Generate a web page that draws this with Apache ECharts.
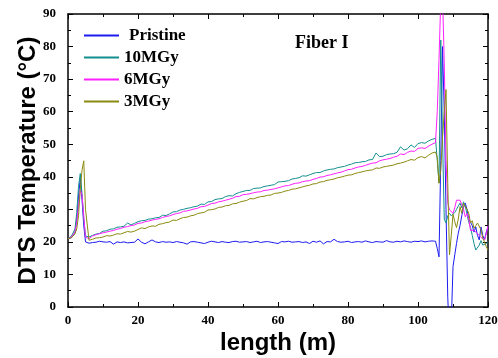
<!DOCTYPE html>
<html><head><meta charset="utf-8">
<script src="https://cdn.jsdelivr.net/npm/echarts@6/dist/echarts.min.js"></script>
<style>html,body{margin:0;padding:0;background:#fff}#c{width:498px;height:358px}</style>
</head><body><div id="c"></div>
<script>
// length (m)
const lengthM = [0,1,2,2.5,3,3.5,4,4.5,5,
6,7,8,9,10,11,12,13,14,15,16,17,18,19,20,21,22,23,24,25,26,27,28,29,30,
31,32,33,34,35,36,37,38,39,40,41,42,43,44,45,46,47,48,49,50,
51,52,53,54,55,56,57,58,59,60,61,62,63,64,65,66,67,68,69,70,
71,72,73,74,75,76,77,78,79,80,81,82,83,84,85,86,87,88,89,90,
91,92,93,94,95,96,97,98,99,100,101,102,103,104,
104.5,105,105.5,106,106.5,107,107.5,108,108.5,109,109.5,110,110.5,111,111.5,112,
112.5,113,113.5,114,114.5,115,115.5,116,116.5,117,117.5,118,118.5,119,119.5,120];

const pristine = [21,21.3,23,27,34,39.5,33,25,20,
19.6,19.8,19.9,20.2,20,19.9,20.1,19.3,20,19.8,20,19.7,19.8,19.9,20.9,19.9,19.4,20,20.6,20,19.8,20.1,19.9,20,19.8,
20.1,19.9,19.7,19.3,20,20.1,19.9,19.7,19.5,19.9,20.2,20,19.8,20.1,19.9,19.8,20.1,20.2,19.9,20,
20.1,19.8,20,20.2,19.8,20,20.1,19.9,19.7,19.5,20.1,20,20.2,19.9,20,20.1,19.8,20,19.5,20.2,
19.9,20.3,19.4,20.1,20,20.8,20.1,19.9,20,20.2,19.8,20,20.1,19.9,20.3,20,19.8,20.1,20,19.9,
20.4,20,19.9,20.2,20,20.3,20.1,19.9,20.2,20.1,20.3,20,20.2,20.3,
20.3,20.2,18,15.4,45,80,60,30,3,-10,-5,12.4,16,19.5,22.7,25,
28,30.5,31.9,30,27,26,25,23,24.6,22,20.6,24.6,22,20.6,23,24.6];

const mgy10 = [21,21.8,24,29,37,41,35,27,21.8,
21.5,22,22.4,22.6,23.3,23.4,23.9,24,24.5,24.6,24.8,25.8,25.2,25.7,26.2,26.5,26.6,27,27.1,27.4,27.5,28.2,28.1,28.6,29.2,
29.3,29.8,30,30.3,30.5,30.8,31,31.6,31.5,32.3,32.4,33,33.2,33.3,33.9,34.2,34.1,34.8,35.2,35.5,
35.8,35.8,36.4,36.5,36.6,37,37.2,37.4,37.6,38.4,38.5,38.6,38.8,39.3,39.5,39.7,40.3,40.2,40.6,41,
41.3,41.3,41.8,42.1,42.3,42.4,42.8,43,43.2,43.6,43.9,44.3,44.4,44.6,44.7,45.2,45.3,47.3,46.2,46.3,
46.8,47,47.1,47.5,49.2,48.2,48.6,49.8,49,50.2,50.5,50.3,51,51.5,
51.3,51.8,45,38.1,82,52,27,25.8,28,28.8,28,28.5,29,30,31,31.9,
30.5,32.3,31,28.5,26,24.5,22,19.5,17.5,17,19,20.4,19,18.5,19.5,20];

const mgy6 = [21,21.5,23,26,31,36,34.5,28,21.5,
21,21.8,22.2,22.5,22.8,23,23.3,23.5,23.9,24.1,24.5,24.7,25,25.2,25.7,25.8,26.2,26.4,26.7,26.9,27.1,27.5,27.8,28,28.4,
28.7,28.9,29.4,29.5,29.8,30.1,30.3,30.8,30.9,31.3,31.8,31.9,32.3,32.5,32.8,33.1,33.4,33.9,34,34.5,
34.6,34.8,35.1,35.3,35.4,35.8,35.9,36.1,36.3,36.6,36.9,37.2,37.3,37.7,38,38.1,38.5,38.7,38.8,39.2,
39.5,39.9,40,40.4,40.6,40.9,41.2,41.4,41.8,42.2,42.3,42.7,43,43.2,43.5,43.9,44.2,44.3,44.9,45.2,
45.4,45.6,46,46.3,47,46.8,47.5,47.9,47.8,48.7,48.9,48.7,49.4,50,
50.2,50.5,60,76,94,96,75,45,32,29.8,29.2,28.8,30.5,32.8,32.6,32.8,
32.6,30,27.7,28.7,27,23.5,23.3,23.6,23.5,22.5,22,21.4,21,20.6,22.5,25];

const mgy3 = [21,21.3,22.5,24,28,36,42,44.9,30,
20.5,20.8,21.2,21.3,21.5,21.9,21.8,22.1,22.5,22.4,22.8,23.2,23,23.3,23.8,24.3,24.1,24.6,24.9,24.8,25.4,25.6,25.9,26.1,26.7,
26.6,27.1,27.5,27.6,28,28.2,28.7,28.9,29.1,29.8,29.9,30.1,30.6,30.7,31.1,31.2,31.7,31.8,32.2,32.5,
32.7,33.3,33.2,33.6,33.9,34,34.3,34.4,34.9,35,35.2,35.6,35.8,36.2,36.3,36.6,36.9,37.2,37.4,37.8,
37.9,38.4,38.5,38.9,39.1,39.3,39.7,39.9,40.2,40.5,40.6,41,41.3,41.5,41.8,42,42.1,42.7,42.6,43,
43.2,43.4,43.6,44,44.2,44.5,44.9,45.3,45.1,45.9,46.2,45.8,46.6,47.3,
47.5,47.6,46,38,42,52,60,66.8,38,16,22,28.5,26.2,24.4,27,30.8,
28.8,31.8,31.9,30,28.8,25.8,26.5,24.2,25,25.8,25.8,23.7,21.1,20,18.5,17.5];

const seriesNames = ['Pristine','10MGy','6MGy','3MGy'];
const seriesColors = ['#1c1cf0','#148f8f','#ff20ff','#8a8a10'];
const seriesData = [pristine, mgy10, mgy6, mgy3];
const xTicks = [0,20,40,60,80,100,120];
const yTicks = [0,10,20,30,40,50,60,70,80,90];

const serif = '"Liberation Serif","Times New Roman",serif';
const sans = '"Liberation Sans",Arial,sans-serif';
const chart = echarts.init(document.getElementById('c'), null, {renderer:'canvas'});
const labelFont = {fontFamily:serif, fontWeight:'bold', fontSize:13, color:'#000'};
const axisCommon = {
  axisLine:{show:true, onZero:false, lineStyle:{color:'#000', width:1.5}},
  axisTick:{show:true, inside:true, length:5, lineStyle:{color:'#000', width:1}},
  minorTick:{show:true, splitNumber:2, length:3, lineStyle:{color:'#000', width:1}},
  splitLine:{show:false}
};
chart.setOption({
  animation:false,
  grid:{left:68, right:10, top:14, bottom:51, containLabel:false, outerBoundsMode:'none'},
  legend:{
    orient:'vertical', left:84, top:27, padding:0, itemWidth:35, itemHeight:2, itemGap:5, icon:'rect',
    data:seriesNames,
    textStyle:{fontFamily:serif, fontWeight:'bold', fontSize:17, color:'#000',
      rich:{p:{fontFamily:serif, fontWeight:'bold', fontSize:17, color:'#000', padding:[0,0,0,5]}}},
    formatter: n => n === 'Pristine' ? '{p|Pristine}' : n
  },
  graphic:[{type:'text', left:295, top:34, style:{text:'Fiber I', font:'bold 18px ' + serif, fill:'#000'}}],
  xAxis:[
    Object.assign({type:'value', min:0, max:120, interval:20, position:'bottom',
      name:'length (m)', nameLocation:'middle', nameGap:24, nameMoveOverlap:false,
      nameTextStyle:{fontFamily:sans, fontWeight:'bold', fontSize:24, color:'#000'},
      axisLabel:Object.assign({margin:7, formatter:v => xTicks.includes(v) ? String(v) : ''}, labelFont)}, axisCommon),
    Object.assign({type:'value', min:0, max:120, interval:20, position:'top', axisLabel:{show:false}}, axisCommon)
  ],
  yAxis:[
    Object.assign({type:'value', min:0, max:90, interval:10, position:'left',
      name:'DTS Temperature (°C)', nameLocation:'middle', nameGap:28, nameMoveOverlap:false,
      nameTextStyle:{fontFamily:sans, fontWeight:'bold', fontSize:24, color:'#000'},
      axisLabel:Object.assign({margin:12, formatter:v => yTicks.includes(v) ? String(v) : ''}, labelFont)}, axisCommon),
    Object.assign({type:'value', min:0, max:90, interval:10, position:'right', axisLabel:{show:false}}, axisCommon)
  ],
  series: seriesNames.map((n,i) => ({
    name:n, type:'line', symbol:'none', clip:true, xAxisIndex:0, yAxisIndex:0,
    lineStyle:{width:1, color:seriesColors[i]}, itemStyle:{color:seriesColors[i]},
    data: lengthM.map((x,j) => [x, seriesData[i][j]])
  }))
});
</script></body></html>
